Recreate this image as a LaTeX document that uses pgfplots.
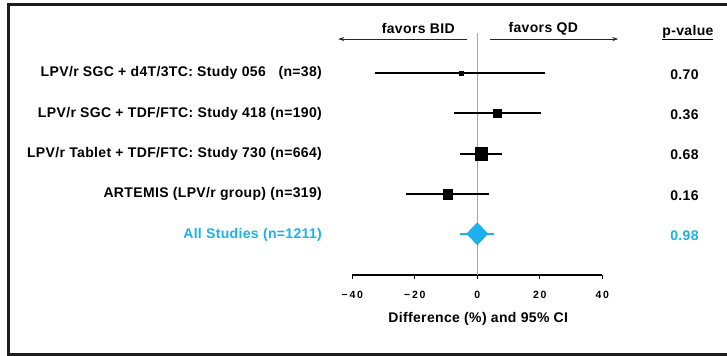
\documentclass[border=0pt]{standalone}
\usepackage{fontspec}
\usepackage{pgfplots}
\pgfplotsset{compat=1.18}
\usetikzlibrary{arrows.meta}
\newfontfamily\lab{Liberation Sans}[LetterSpace=2.5]
\newfontfamily\tck{Liberation Sans}[LetterSpace=16]
\definecolor{cy}{RGB}{28,176,236}
\definecolor{fr}{RGB}{30,30,30}
\newcommand\lf{\lab\bfseries\fontsize{14bp}{16bp}\selectfont}
\begin{document}
\begin{tikzpicture}
\begin{axis}[at={(0,0)},anchor=south west, scale only axis,
  width=250bp, height=262.6bp,
  xmin=-40,xmax=40,ymin=0,ymax=6.5,
  axis x line=bottom, axis y line=none,
  axis line style={-,line width=1.1pt, black},
  xtick={-40,-20,0,20,40}, xticklabels={−40,−20,0,20,40},
  tick style={black,line width=0.9pt}, major tick length=4bp, tick align=outside,
  xticklabel style={font=\tck\bfseries\fontsize{10.5bp}{12bp}\selectfont, yshift=-9bp},
  clip=false]
\addplot[gray!70, line width=0.8pt] coordinates {(0,0)(0,6)};
\addplot[black, line width=2pt] coordinates {(-32.6,5)(21.8,5)};
\addplot[black, only marks, mark=square*, mark size=1.8bp] coordinates {(-5.2,5)};
\addplot[black, line width=2pt] coordinates {(-7.6,4)(20.4,4)};
\addplot[black, only marks, mark=square*, mark size=4bp] coordinates {(6.5,4)};
\addplot[black, line width=2pt] coordinates {(-5.4,3)(7.9,3)};
\addplot[black, only marks, mark=square*, mark size=6.2bp] coordinates {(1.3,3)};
\addplot[black, line width=2pt] coordinates {(-22.7,2)(3.9,2)};
\addplot[black, only marks, mark=square*, mark size=4.6bp] coordinates {(-9.5,2)};
\addplot[cy, line width=2pt] coordinates {(-5.4,1.02)(5.3,1.02)};
\addplot[fill=cy, draw=none] coordinates {(-3.5,1.02)(0,1.305)(3.5,1.02)(0,0.735)} -- cycle;
\draw[-{Stealth[length=6bp,width=4bp]}, gray!30!black, line width=0.6pt] (axis cs:-3.3,5.84) -- (axis cs:-44.5,5.84);
\draw[-{Stealth[length=6bp,width=4bp]}, gray!30!black, line width=0.6pt] (axis cs:4.2,5.84) -- (axis cs:45.1,5.84);
\node[font=\lf] at (axis cs:-18.9,6.09) {favors BID};
\node[font=\lf] at (axis cs:21.1,6.09) {favors QD};
\node[font=\lf] at (axis cs:67.4,6.0) {\underline{p-value}};
\node[font=\lf,anchor=east] at (axis cs:-48.6,5) {LPV/r SGC + d4T/3TC: Study 056\ \ \ (n=38)};
\node[font=\lf,anchor=east] at (axis cs:-48.6,4) {LPV/r SGC + TDF/FTC: Study 418 (n=190)};
\node[font=\lf,anchor=east] at (axis cs:-48.6,3) {LPV/r Tablet + TDF/FTC: Study 730 (n=664)};
\node[font=\lf,anchor=east] at (axis cs:-48.6,2) {ARTEMIS (LPV/r group) (n=319)};
\node[font=\lf,anchor=east,text=cy] at (axis cs:-48.6,1) {All Studies (n=1211)};
\node[font=\lf] at (axis cs:66.3,4.97) {0.70};
\node[font=\lf] at (axis cs:66.3,3.97) {0.36};
\node[font=\lf] at (axis cs:66.3,2.97) {0.68};
\node[font=\lf] at (axis cs:66.3,1.97) {0.16};
\node[font=\lf,text=cy] at (axis cs:66.3,0.97) {0.98};
\node[font=\lf] at (axis cs:0.3,-1.08) {Difference (\%) and 95\% CI};
\end{axis}
\draw[fr, line width=3bp] (380bp,270bp) -- (-343.3bp,270bp) -- (-343.3bp,-79.3bp) -- (380bp,-79.3bp);
\pgfresetboundingbox
\path[use as bounding box] (-352.3bp,-81bp) rectangle (374.7bp,275bp);
\end{tikzpicture}
\end{document}
